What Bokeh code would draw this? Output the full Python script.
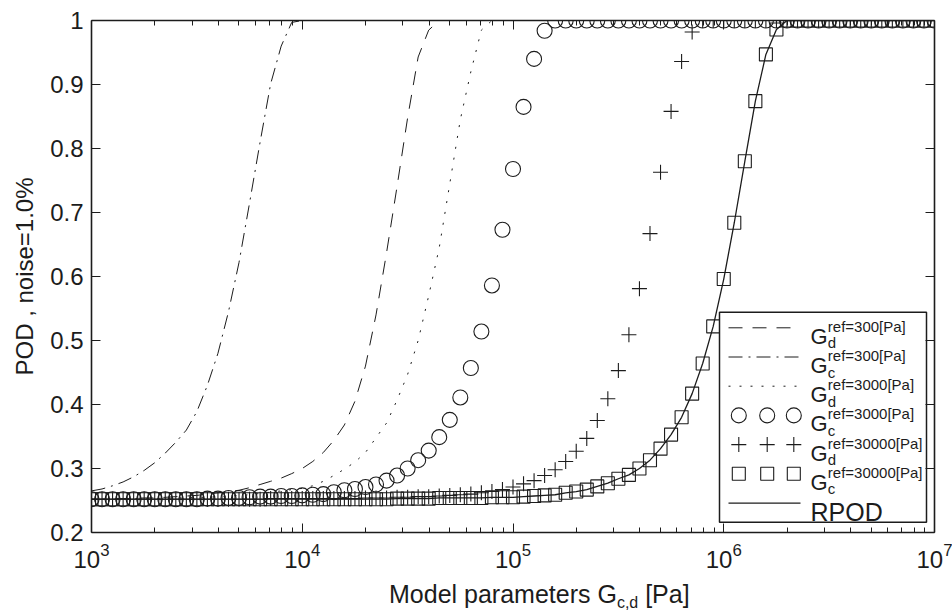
from bokeh.plotting import figure
from bokeh.layouts import column
from bokeh.models import (LogAxis, LinearAxis, FixedTicker, CustomJSTickFormatter,
                          Label, LogTickFormatter, Div)
from bokeh.embed import file_html
from bokeh.resources import INLINE

# ---------------- data ----------------
log_x = [3.00, 3.05, 3.10, 3.15, 3.20, 3.25, 3.30, 3.35, 3.40, 3.45,
         3.50, 3.55, 3.60, 3.65, 3.70, 3.75, 3.80, 3.85, 3.90, 3.95,
         4.00, 4.05, 4.10, 4.15, 4.20, 4.25, 4.30, 4.35, 4.40, 4.45,
         4.50, 4.55, 4.60, 4.65, 4.70, 4.75, 4.80, 4.85, 4.90, 4.95,
         5.00, 5.05, 5.10, 5.15, 5.20, 5.25, 5.30, 5.35, 5.40, 5.45,
         5.50, 5.55, 5.60, 5.65, 5.70, 5.75, 5.80, 5.85, 5.90, 5.95,
         6.00, 6.05, 6.10, 6.15, 6.20, 6.25, 6.30, 6.35, 6.40, 6.45,
         6.50, 6.55, 6.60, 6.65, 6.70, 6.75, 6.80, 6.85, 6.90, 6.95,
         7.00]

gd_300 = [0.252, 0.252, 0.253, 0.253, 0.253, 0.254, 0.254, 0.255, 0.256, 0.257,
          0.258, 0.260, 0.262, 0.264, 0.266, 0.270, 0.275, 0.280, 0.285, 0.292,
          0.300, 0.311, 0.325, 0.344, 0.368, 0.405, 0.460, 0.540, 0.637, 0.741,
          0.848, 0.943, 0.985, 1.0, 1.0, 1.0, 1.0, 1.0, 1.0, 1.0,
          1.0, 1.0, 1.0, 1.0, 1.0, 1.0, 1.0, 1.0, 1.0, 1.0,
          1.0, 1.0, 1.0, 1.0, 1.0, 1.0, 1.0, 1.0, 1.0, 1.0,
          1.0, 1.0, 1.0, 1.0, 1.0, 1.0, 1.0, 1.0, 1.0, 1.0,
          1.0, 1.0, 1.0, 1.0, 1.0, 1.0, 1.0, 1.0, 1.0, 1.0,
          1.0]

gc_300 = [0.265, 0.268, 0.273, 0.279, 0.287, 0.297, 0.309, 0.324, 0.341, 0.360,
          0.389, 0.430, 0.480, 0.545, 0.622, 0.715, 0.810, 0.901, 0.960, 0.997,
          1.0, 1.0, 1.0, 1.0, 1.0, 1.0, 1.0, 1.0, 1.0, 1.0,
          1.0, 1.0, 1.0, 1.0, 1.0, 1.0, 1.0, 1.0, 1.0, 1.0,
          1.0, 1.0, 1.0, 1.0, 1.0, 1.0, 1.0, 1.0, 1.0, 1.0,
          1.0, 1.0, 1.0, 1.0, 1.0, 1.0, 1.0, 1.0, 1.0, 1.0,
          1.0, 1.0, 1.0, 1.0, 1.0, 1.0, 1.0, 1.0, 1.0, 1.0,
          1.0, 1.0, 1.0, 1.0, 1.0, 1.0, 1.0, 1.0, 1.0, 1.0,
          1.0]

gd_3000 = [0.252, 0.252, 0.252, 0.252, 0.253, 0.253, 0.253, 0.253, 0.254, 0.254,
           0.255, 0.255, 0.256, 0.257, 0.258, 0.259, 0.261, 0.263, 0.265, 0.267,
           0.269, 0.273, 0.280, 0.289, 0.299, 0.310, 0.325, 0.348, 0.371, 0.407,
           0.447, 0.500, 0.570, 0.645, 0.745, 0.845, 0.920, 0.985, 1.0, 1.0,
           1.0, 1.0, 1.0, 1.0, 1.0, 1.0, 1.0, 1.0, 1.0, 1.0,
           1.0, 1.0, 1.0, 1.0, 1.0, 1.0, 1.0, 1.0, 1.0, 1.0,
           1.0, 1.0, 1.0, 1.0, 1.0, 1.0, 1.0, 1.0, 1.0, 1.0,
           1.0, 1.0, 1.0, 1.0, 1.0, 1.0, 1.0, 1.0, 1.0, 1.0,
           1.0]

gc_3000 = [0.252, 0.252, 0.252, 0.252, 0.252, 0.252, 0.252, 0.252, 0.252, 0.252,
           0.252, 0.253, 0.253, 0.254, 0.254, 0.255, 0.256, 0.256, 0.257, 0.257,
           0.258, 0.259, 0.260, 0.263, 0.266, 0.268, 0.271, 0.275, 0.281, 0.289,
           0.300, 0.313, 0.328, 0.349, 0.376, 0.411, 0.457, 0.514, 0.586, 0.673,
           0.768, 0.865, 0.940, 0.984, 1.0, 1.0, 1.0, 1.0, 1.0, 1.0,
           1.0, 1.0, 1.0, 1.0, 1.0, 1.0, 1.0, 1.0, 1.0, 1.0,
           1.0, 1.0, 1.0, 1.0, 1.0, 1.0, 1.0, 1.0, 1.0, 1.0,
           1.0, 1.0, 1.0, 1.0, 1.0, 1.0, 1.0, 1.0, 1.0, 1.0,
           1.0]

gd_30000 = [0.252, 0.252, 0.252, 0.252, 0.252, 0.252, 0.252, 0.252, 0.252, 0.252,
            0.252, 0.252, 0.252, 0.252, 0.252, 0.252, 0.252, 0.253, 0.253, 0.253,
            0.253, 0.253, 0.253, 0.253, 0.253, 0.253, 0.254, 0.254, 0.254, 0.255,
            0.255, 0.256, 0.256, 0.257, 0.258, 0.259, 0.260, 0.262, 0.264, 0.267,
            0.271, 0.276, 0.281, 0.289, 0.298, 0.311, 0.327, 0.347, 0.375, 0.409,
            0.453, 0.509, 0.581, 0.667, 0.763, 0.858, 0.936, 0.982, 1.0, 1.0,
            1.0, 1.0, 1.0, 1.0, 1.0, 1.0, 1.0, 1.0, 1.0, 1.0,
            1.0, 1.0, 1.0, 1.0, 1.0, 1.0, 1.0, 1.0, 1.0, 1.0,
            1.0]

gc_30000 = [0.252, 0.252, 0.252, 0.252, 0.252, 0.252, 0.252, 0.252, 0.252, 0.252,
            0.252, 0.252, 0.252, 0.252, 0.252, 0.252, 0.252, 0.252, 0.252, 0.252,
            0.252, 0.252, 0.252, 0.252, 0.252, 0.252, 0.252, 0.252, 0.252, 0.253,
            0.253, 0.253, 0.253, 0.254, 0.254, 0.254, 0.254, 0.254, 0.255, 0.255,
            0.255, 0.256, 0.257, 0.258, 0.259, 0.262, 0.264, 0.267, 0.272, 0.277,
            0.284, 0.290, 0.300, 0.313, 0.331, 0.353, 0.380, 0.417, 0.464, 0.522,
            0.596, 0.684, 0.780, 0.874, 0.947, 0.986, 1.0, 1.0, 1.0, 1.0,
            1.0, 1.0, 1.0, 1.0, 1.0, 1.0, 1.0, 1.0, 1.0, 1.0,
            1.0]

rpod = [0.252, 0.252, 0.252, 0.252, 0.252, 0.252, 0.252, 0.252, 0.252, 0.252,
        0.252, 0.252, 0.252, 0.252, 0.252, 0.252, 0.252, 0.252, 0.252, 0.252,
        0.252, 0.252, 0.252, 0.252, 0.252, 0.252, 0.252, 0.252, 0.252, 0.253,
        0.253, 0.253, 0.253, 0.254, 0.254, 0.254, 0.254, 0.254, 0.255, 0.255,
        0.255, 0.256, 0.257, 0.258, 0.259, 0.262, 0.264, 0.267, 0.272, 0.277,
        0.284, 0.290, 0.300, 0.313, 0.331, 0.353, 0.380, 0.417, 0.464, 0.522,
        0.596, 0.684, 0.780, 0.874, 0.947, 0.986, 1.0, 1.0, 1.0, 1.0,
        1.0, 1.0, 1.0, 1.0, 1.0, 1.0, 1.0, 1.0, 1.0, 1.0,
        1.0]

y_ticks = [0.2, 0.3, 0.4, 0.5, 0.6, 0.7, 0.8, 0.9, 1.0]
x_ticks = [1e3, 1e4, 1e5, 1e6, 1e7]
x_minor = [m * 10 ** e for e in range(3, 7) for m in range(2, 10)]

legend_sup = ["ref=300[Pa]", "ref=300[Pa]", "ref=3000[Pa]",
              "ref=3000[Pa]", "ref=30000[Pa]", "ref=30000[Pa]"]
legend_sub = ["d", "c", "d", "c", "d", "c"]

x = [10 ** e for e in log_x]

# ---------------- layout helpers (canvas pixels -> data) ----------------
W, H = 952, 576
DIV_H = 34
FL, FR, FT, FB = 91, 934, 20, 532
INK = "#1c1c1c"
FONT = "Liberation Sans"


def dx(px):
    return 10 ** (3 + 4 * (px - FL) / (FR - FL))


def dy(py):
    return 0.2 + 0.8 * (FB - py) / (FB - FT)


p = figure(width=W, height=H, x_axis_type="log", x_range=(1e3, 1e7), y_range=(0.2, 1.0),
           output_backend="svg", toolbar_location=None,
           min_border_left=FL, min_border_right=W - FR, min_border_top=FT,
           min_border_bottom=H - FB)
p.xgrid.visible = False
p.ygrid.visible = False
p.outline_line_color = None
p.background_fill_color = "white"
p.border_fill_color = "white"

xticker = FixedTicker(ticks=x_ticks, minor_ticks=x_minor)
yticker = FixedTicker(ticks=y_ticks, minor_ticks=[])


def style(ax):
    ax.axis_line_color = INK
    ax.axis_line_width = 1.6
    ax.major_tick_in = 9
    ax.major_tick_out = 0
    ax.minor_tick_in = 5
    ax.minor_tick_out = 0
    ax.major_tick_line_color = INK
    ax.minor_tick_line_color = INK
    ax.major_tick_line_width = 1
    ax.minor_tick_line_width = 1
    ax.major_label_text_font = FONT
    ax.major_label_text_font_size = "24px"
    ax.major_label_text_color = INK


xa = p.xaxis[0]
xa.ticker = xticker
xa.formatter = LogTickFormatter()
style(xa)
xa.major_label_standoff = 10

ya = p.yaxis[0]
ya.ticker = yticker
ya.formatter = CustomJSTickFormatter(code="return (Math.round(tick*10)/10).toString()")
style(ya)
ya.major_label_standoff = 8
ya.axis_label = "POD , noise=1.0%"
ya.axis_label_text_font = FONT
ya.axis_label_text_font_size = "24px"
ya.axis_label_text_font_style = "normal"
ya.axis_label_text_color = INK
ya.axis_label_standoff = 9

top = LogAxis(ticker=xticker, formatter=CustomJSTickFormatter(code="return ''"))
style(top)
top.major_label_text_font_size = "0px"
top.major_label_standoff = 0
p.add_layout(top, "above")

right = LinearAxis(ticker=yticker, formatter=CustomJSTickFormatter(code="return ''"))
style(right)
right.major_label_text_font_size = "0px"
right.major_label_standoff = 0
p.add_layout(right, "right")

# ---------------- data renderers ----------------
DASH = "14 10"
DASHDOT = "14 6 2 6"
DOT = "2 9"
p.line(x, gd_300, line_color=INK, line_width=1, line_dash=DASH)
p.line(x, gc_300, line_color=INK, line_width=1, line_dash=DASHDOT)
p.line(x, gd_3000, line_color=INK, line_width=1, line_dash=DOT)
p.scatter(x, gc_3000, marker="circle", size=15, fill_color=None, line_color=INK, line_width=1.1)
p.scatter(x, gd_30000, marker="cross", size=15, line_color=INK, line_width=1.1)
p.scatter(x, gc_30000, marker="square", size=13, fill_color=None, line_color=INK, line_width=1.1)
p.line(x, rpod, line_color=INK, line_width=1.3)

# ---------------- legend (drawn by hand, MATLAB style) ----------------
p.quad(left=[dx(719)], right=[dx(926)], top=[dy(311.7)], bottom=[dy(521.7)],
       fill_color="white", line_color=INK, line_width=1.5)

ROW0, PITCH = 327.3, 29.2
rows = [ROW0 + PITCH * i for i in range(6)]
lx0, lx1 = dx(728), dx(800)
for i, dash in enumerate([DASH, DASHDOT, DOT]):
    p.line([lx0, lx1], [dy(rows[i])] * 2, line_color=INK, line_width=1, line_dash=dash)
mk_x = [dx(738.3), dx(766.7), dx(793.3)]
p.scatter(mk_x, [dy(rows[3])] * 3, marker="circle", size=15, fill_color=None, line_color=INK, line_width=1.1)
p.scatter(mk_x, [dy(rows[4])] * 3, marker="cross", size=15, line_color=INK, line_width=1.1)
p.scatter(mk_x, [dy(rows[5])] * 3, marker="square", size=13, fill_color=None, line_color=INK, line_width=1.1)
p.line([lx0, lx1], [dy(502.7)] * 2, line_color=INK, line_width=1.3)

for i in range(6):
    r = rows[i]
    p.add_layout(Label(x=dx(810), y=dy(r + 8.4), text="G", text_font=FONT, text_font_size="22px",
                       text_color=INK, text_baseline="alphabetic"))
    p.add_layout(Label(x=dx(827.3), y=dy(r - 1.6), text=legend_sup[i], text_font=FONT,
                       text_font_size="15px", text_color=INK, text_baseline="alphabetic"))
    p.add_layout(Label(x=dx(827.3), y=dy(r + 15), text=legend_sub[i], text_font=FONT,
                       text_font_size="15px", text_color=INK, text_baseline="alphabetic"))
p.add_layout(Label(x=dx(810), y=dy(511), text="RPOD", text_font=FONT, text_font_size="25px",
                   text_color=INK, text_baseline="alphabetic"))

# ---------------- x-axis title with subscript (HTML text under the figure) ----------------
xlabel = Div(
    text='Model parameters G<sub style="font-size:16px;vertical-align:-5px;line-height:0">c,d</sub> [Pa]',
    width=W, height=DIV_H, margin=0,
    styles={"font-family": FONT, "font-size": "25px", "line-height": "25px", "color": INK,
            "padding-left": "389px", "padding-top": "6px", "white-space": "nowrap",
            "box-sizing": "border-box", "background-color": "white"})

layout = column(p, xlabel, spacing=0)
open("out.html", "w").write(file_html(layout, INLINE))
